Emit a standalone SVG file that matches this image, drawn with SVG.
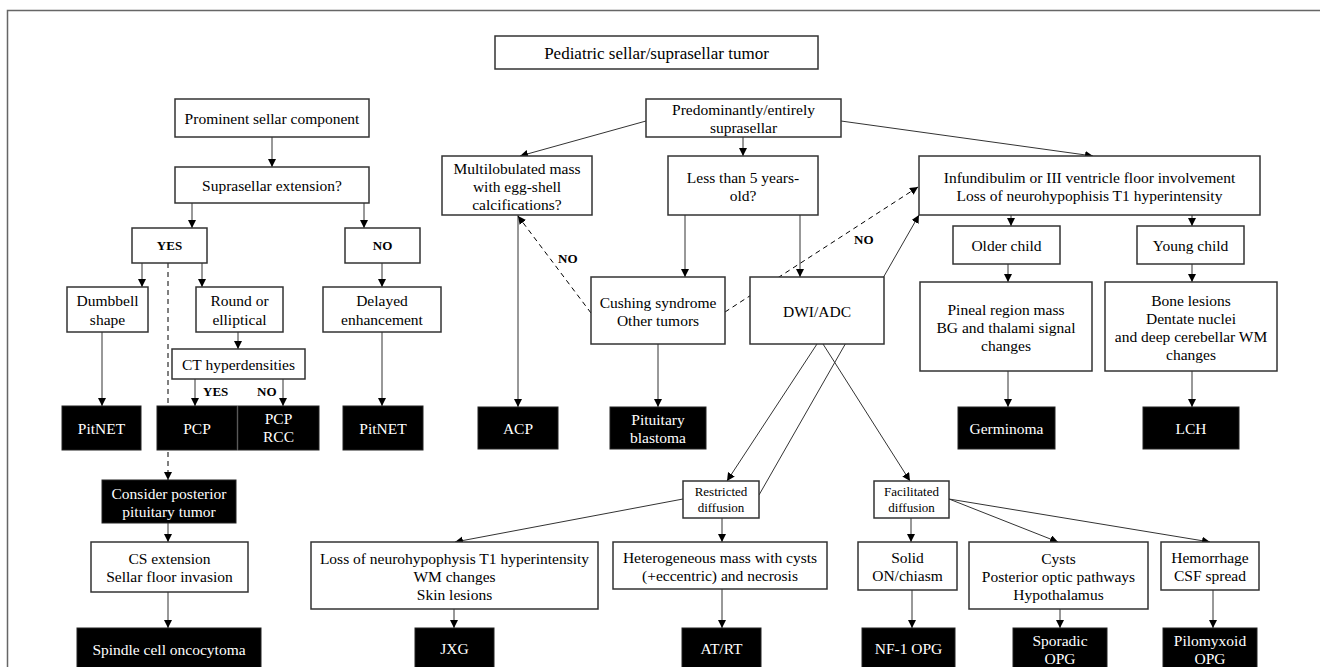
<svg xmlns="http://www.w3.org/2000/svg" width="1320" height="667" viewBox="0 0 1320 667">
<defs>
<marker id="ah" markerUnits="userSpaceOnUse" markerWidth="9" markerHeight="9" refX="8" refY="4" orient="auto">
<path d="M0,0 L8,4 L0,8 z" fill="#000"/>
</marker>
<style>
.bx{fill:#fff;stroke:#333;stroke-width:1.5}
.bk{fill:#000;stroke:#222;stroke-width:1}
.t{font-family:"Liberation Serif","Times New Roman",serif;font-size:15.5px;fill:#000;text-anchor:middle}
.w{fill:#fff}
.sm{font-size:13px}
.lb{font-family:"Liberation Serif","Times New Roman",serif;font-size:13px;font-weight:bold;fill:#000}
.c{fill:none;stroke:#333;stroke-width:1;marker-end:url(#ah)}
.d{stroke-dasharray:5,4;stroke:#000}
</style>
</defs>
<rect x="0" y="0" width="1320" height="667" fill="#fff"/>
<rect x="7.5" y="10.5" width="1340" height="700" fill="none" stroke="#666" stroke-width="1.5"/>

<g id="connectors">
<line class="c" x1="272" y1="137" x2="272" y2="167"/>
<line class="c" x1="192" y1="203" x2="192" y2="228"/>
<line class="c" x1="364" y1="203" x2="364" y2="228"/>
<line class="c" x1="142" y1="263" x2="142" y2="287"/>
<line class="c" x1="202" y1="263" x2="202" y2="287"/>
<line class="c d" x1="168" y1="263" x2="168" y2="480"/>
<line class="c" x1="238" y1="332" x2="238" y2="349"/>
<line class="c" x1="195" y1="379" x2="195" y2="406"/>
<line class="c" x1="283" y1="379" x2="283" y2="406"/>
<line class="c" x1="102" y1="332" x2="102" y2="406"/>
<line class="c" x1="382" y1="263" x2="382" y2="287"/>
<line class="c" x1="382" y1="332" x2="382" y2="406"/>
<line class="c" x1="168" y1="523" x2="168" y2="542"/>
<line class="c" x1="168" y1="592" x2="168" y2="628"/>

<line class="c" x1="646" y1="121" x2="520" y2="156"/>
<line class="c" x1="743" y1="137" x2="743" y2="156"/>
<line class="c" x1="841" y1="121" x2="1093" y2="156"/>
<line class="c" x1="685" y1="215" x2="685" y2="277"/>
<line class="c" x1="800" y1="215" x2="800" y2="277"/>
<line class="c" x1="518" y1="215" x2="518" y2="407"/>
<line class="c d" x1="591" y1="313" x2="518" y2="216"/>
<line class="c d" x1="725" y1="312" x2="918" y2="187"/>
<line class="c" x1="658" y1="344" x2="658" y2="407"/>
<line class="c" x1="759" y1="495" x2="919" y2="215"/>
<line class="c" x1="817" y1="344" x2="727" y2="481"/>
<line class="c" x1="823" y1="344" x2="910" y2="481"/>
<line class="c" x1="683" y1="499" x2="455" y2="542"/>
<line class="c" x1="722" y1="518" x2="722" y2="542"/>
<line class="c" x1="454" y1="609" x2="454" y2="628"/>
<line class="c" x1="722" y1="589" x2="722" y2="628"/>
<line class="c" x1="911" y1="518" x2="911" y2="542"/>
<line class="c" x1="949" y1="499" x2="1058" y2="542"/>
<line class="c" x1="949" y1="499" x2="1210" y2="542"/>
<line class="c" x1="912" y1="590" x2="912" y2="628"/>
<line class="c" x1="1060" y1="609" x2="1060" y2="628"/>
<line class="c" x1="1213" y1="590" x2="1213" y2="628"/>

<line class="c" x1="1011" y1="215" x2="1011" y2="226"/>
<line class="c" x1="1192" y1="215" x2="1192" y2="226"/>
<line class="c" x1="1008" y1="264" x2="1008" y2="282"/>
<line class="c" x1="1192" y1="264" x2="1192" y2="282"/>
<line class="c" x1="1008" y1="371" x2="1008" y2="407"/>
<line class="c" x1="1192" y1="371" x2="1192" y2="407"/>

<text class="lb" x="203" y="396">YES</text>
<text class="lb" x="257" y="396">NO</text>
<text class="lb" x="558" y="263">NO</text>
<text class="lb" x="854" y="244">NO</text>
</g>

<g id="title"><rect class="bx" x="495" y="36" width="323" height="33"/><text class="t" x="656.5" y="59" style="font-size:17px">Pediatric sellar/suprasellar tumor</text></g>

<g id="prominent"><rect class="bx" x="175" y="99" width="194" height="38"/><text class="t" x="272" y="124">Prominent sellar component</text></g>
<g id="supra"><rect class="bx" x="175" y="167" width="194" height="36"/><text class="t" x="272" y="191">Suprasellar extension?</text></g>
<g id="yes"><rect class="bx" x="132" y="228" width="75" height="35"/><text class="lb" x="169.5" y="250" text-anchor="middle">YES</text></g>
<g id="no"><rect class="bx" x="345" y="228" width="75" height="35"/><text class="lb" x="382.5" y="250" text-anchor="middle">NO</text></g>
<g id="dumbbell"><rect class="bx" x="67" y="287" width="81" height="45"/><text class="t" x="107.5" y="306">Dumbbell</text><text class="t" x="107.5" y="325">shape</text></g>
<g id="round"><rect class="bx" x="196" y="287" width="87" height="45"/><text class="t" x="239.5" y="306">Round or</text><text class="t" x="239.5" y="325">elliptical</text></g>
<g id="delayed"><rect class="bx" x="323" y="287" width="118" height="45"/><text class="t" x="382" y="306">Delayed</text><text class="t" x="382" y="325">enhancement</text></g>
<g id="ct"><rect class="bx" x="172" y="349" width="133" height="30"/><text class="t" x="238.5" y="370">CT hyperdensities</text></g>
<g id="pitnet1"><rect class="bk" x="62" y="406" width="79" height="44"/><text class="t w" x="101.5" y="434">PitNET</text></g>
<g id="pcp"><rect class="bk" x="157" y="406" width="80" height="44"/><text class="t w" x="197" y="434">PCP</text></g>
<g id="pcprcc"><rect class="bk" x="238" y="406" width="81" height="44"/><text class="t w" x="278.5" y="424">PCP</text><text class="t w" x="278.5" y="442">RCC</text></g>
<g id="pitnet2"><rect class="bk" x="343" y="406" width="80" height="44"/><text class="t w" x="383" y="434">PitNET</text></g>
<g id="consider"><rect class="bk" x="102" y="480" width="134" height="43"/><text class="t w" x="169" y="498.5">Consider posterior</text><text class="t w" x="169" y="516.5">pituitary tumor</text></g>
<g id="cs"><rect class="bx" x="91" y="542" width="157" height="50"/><text class="t" x="169.5" y="564">CS extension</text><text class="t" x="169.5" y="582">Sellar floor invasion</text></g>
<g id="spindle"><rect class="bk" x="77" y="628" width="184" height="50"/><text class="t w" x="169" y="655">Spindle cell oncocytoma</text></g>

<g id="predom"><rect class="bx" x="646" y="99" width="195" height="38"/><text class="t" x="743.5" y="115">Predominantly/entirely</text><text class="t" x="743.5" y="133">suprasellar</text></g>
<g id="multi"><rect class="bx" x="442" y="156" width="150" height="59"/><text class="t" x="517" y="173.5">Multilobulated mass</text><text class="t" x="517" y="191.5">with egg-shell</text><text class="t" x="517" y="209.5">calcifications?</text></g>
<g id="less"><rect class="bx" x="668" y="156" width="150" height="59"/><text class="t" x="743" y="182.5">Less than 5 years-</text><text class="t" x="743" y="200.5">old?</text></g>
<g id="cushing"><rect class="bx" x="591" y="277" width="134" height="67"/><text class="t" x="658" y="307.5">Cushing syndrome</text><text class="t" x="658" y="325.5">Other tumors</text></g>
<g id="dwi"><rect class="bx" x="750" y="277" width="134" height="67"/><text class="t" x="817" y="316.5">DWI/ADC</text></g>
<g id="acp"><rect class="bk" x="478" y="407" width="80" height="42"/><text class="t w" x="518" y="434">ACP</text></g>
<g id="pitblast"><rect class="bk" x="610" y="407" width="96" height="42"/><text class="t w" x="658" y="425">Pituitary</text><text class="t w" x="658" y="443">blastoma</text></g>
<g id="restricted"><rect class="bx" x="683" y="481" width="76" height="37"/><text class="t sm" x="721" y="496">Restricted</text><text class="t sm" x="721" y="512">diffusion</text></g>
<g id="facilitated"><rect class="bx" x="874" y="481" width="75" height="37"/><text class="t sm" x="911.5" y="496">Facilitated</text><text class="t sm" x="911.5" y="512">diffusion</text></g>
<g id="loss"><rect class="bx" x="311" y="542" width="287" height="67"/><text class="t" x="454.5" y="563.5">Loss of neurohypophysis T1 hyperintensity</text><text class="t" x="454.5" y="581.5">WM changes</text><text class="t" x="454.5" y="599.5">Skin lesions</text></g>
<g id="hetero"><rect class="bx" x="613" y="542" width="214" height="47"/><text class="t" x="720" y="562.5">Heterogeneous mass with cysts</text><text class="t" x="720" y="580.5">(+eccentric) and necrosis</text></g>
<g id="jxg"><rect class="bk" x="415" y="628" width="79" height="50"/><text class="t w" x="454.5" y="654">JXG</text></g>
<g id="atrt"><rect class="bk" x="682" y="628" width="79" height="50"/><text class="t w" x="721.5" y="654">AT/RT</text></g>

<g id="infund"><rect class="bx" x="919" y="156" width="341" height="59"/><text class="t" x="1089.5" y="182.5">Infundibulim or III ventricle floor involvement</text><text class="t" x="1089.5" y="200.5">Loss of neurohypophisis T1 hyperintensity</text></g>
<g id="older"><rect class="bx" x="953" y="226" width="107" height="38"/><text class="t" x="1006.5" y="251">Older child</text></g>
<g id="young"><rect class="bx" x="1137" y="226" width="107" height="38"/><text class="t" x="1190.5" y="251">Young child</text></g>
<g id="pineal"><rect class="bx" x="920" y="282" width="172" height="89"/><text class="t" x="1006" y="314.5">Pineal region mass</text><text class="t" x="1006" y="332.5">BG and thalami signal</text><text class="t" x="1006" y="350.5">changes</text></g>
<g id="bone"><rect class="bx" x="1105" y="282" width="172" height="89"/><text class="t" x="1191" y="305.5">Bone lesions</text><text class="t" x="1191" y="323.5">Dentate nuclei</text><text class="t" x="1191" y="341.5">and deep cerebellar WM</text><text class="t" x="1191" y="359.5">changes</text></g>
<g id="germinoma"><rect class="bk" x="958" y="407" width="97" height="42"/><text class="t w" x="1006.5" y="434">Germinoma</text></g>
<g id="lch"><rect class="bk" x="1143" y="407" width="96" height="42"/><text class="t w" x="1191" y="434">LCH</text></g>
<g id="solid"><rect class="bx" x="858" y="542" width="99" height="48"/><text class="t" x="907.5" y="563">Solid</text><text class="t" x="907.5" y="581">ON/chiasm</text></g>
<g id="cysts"><rect class="bx" x="969" y="542" width="179" height="67"/><text class="t" x="1058.5" y="563.5">Cysts</text><text class="t" x="1058.5" y="581.5">Posterior optic pathways</text><text class="t" x="1058.5" y="599.5">Hypothalamus</text></g>
<g id="hemorrhage"><rect class="bx" x="1161" y="542" width="98" height="48"/><text class="t" x="1210" y="563">Hemorrhage</text><text class="t" x="1210" y="581">CSF spread</text></g>
<g id="nf1"><rect class="bk" x="862" y="628" width="93" height="50"/><text class="t w" x="908.5" y="654">NF-1 OPG</text></g>
<g id="sporadic"><rect class="bk" x="1013" y="628" width="94" height="50"/><text class="t w" x="1060" y="646">Sporadic</text><text class="t w" x="1060" y="664">OPG</text></g>
<g id="pilomyxoid"><rect class="bk" x="1163" y="628" width="94" height="50"/><text class="t w" x="1210" y="646">Pilomyxoid</text><text class="t w" x="1210" y="664">OPG</text></g>
</svg>
